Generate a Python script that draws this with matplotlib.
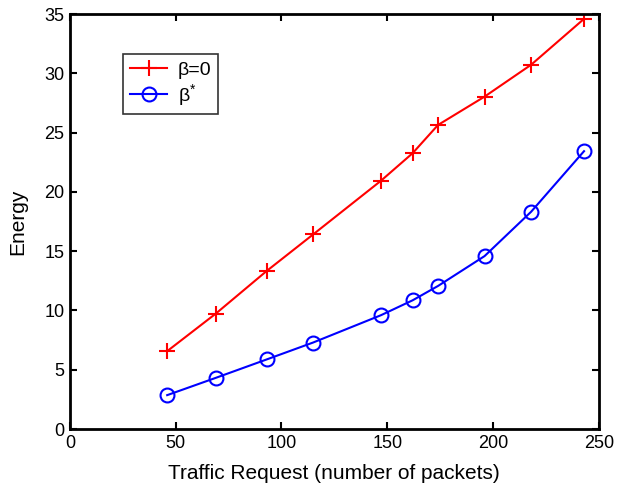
import matplotlib
matplotlib.use("Agg")
import matplotlib.pyplot as plt

plt.rcParams["font.family"] = ["Liberation Sans", "DejaVu Sans"]
plt.rcParams["mathtext.fontset"] = "custom"
plt.rcParams["mathtext.rm"] = "Liberation Sans"
plt.rcParams["mathtext.it"] = "Liberation Sans"

# traffic request (packets) and energy for the two beta settings
traffic = [46, 69, 93, 115, 147, 162, 174, 196, 218, 243]
energy_beta0 = [6.57, 9.74, 13.33, 16.42, 20.94, 23.27, 25.65, 28.04, 30.73, 34.6]
energy_beta_opt = [2.86, 4.32, 5.87, 7.30, 9.60, 10.86, 12.07, 14.59, 18.33, 23.44]

fig = plt.figure(figsize=(6.18, 4.87), dpi=100)
ax = fig.add_axes([0.113, 0.119, 0.856, 0.852])

ax.plot(traffic, energy_beta0, color="#ff0000", marker="+", markersize=11,
        markeredgewidth=1.5, linewidth=1.5, label="β=0")
ax.plot(traffic, energy_beta_opt, color="#0000ff", marker="o", markersize=10,
        markerfacecolor="none", markeredgewidth=1.5, linewidth=1.5,
        label=r"β$^{*}$")

ax.set_xlim(0, 250)
ax.set_ylim(0, 35)
ax.set_xticks([0, 50, 100, 150, 200, 250])
ax.set_yticks([0, 5, 10, 15, 20, 25, 30, 35])
ax.tick_params(direction="in", top=True, right=True, length=5, width=1.5,
               labelsize=13, pad=4)
for s in ax.spines.values():
    s.set_linewidth(2)

ax.set_xlabel("Traffic Request (number of packets)", fontsize=15, labelpad=9)
ax.set_ylabel("Energy", fontsize=15, labelpad=12)

leg = ax.legend(loc="upper left", bbox_to_anchor=(0.101, 0.903), fontsize=14,
                frameon=True, fancybox=False, edgecolor="black",
                borderpad=0.35, handlelength=1.9, handletextpad=0.55,
                labelspacing=0.15, borderaxespad=0)
leg.get_frame().set_linewidth(1.2)

fig.savefig("out.png", dpi=100)
